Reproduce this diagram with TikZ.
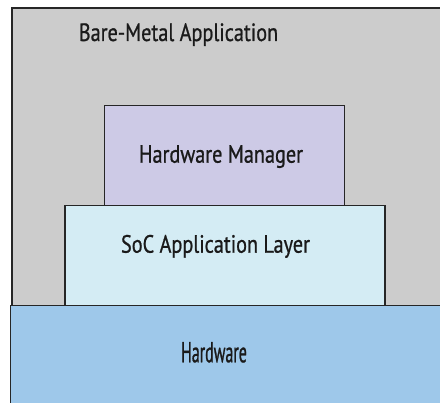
\documentclass[tikz,border=0pt]{standalone}
\usepackage{fontspec}
\setmainfont{PT Sans}[FakeStretch=0.81,FakeBold=0.8]
\newfontfamily\tallnarrow{PT Sans}[FakeStretch=0.55,FakeBold=0.8]
\definecolor{appgray}{HTML}{CCCCCC}
\definecolor{mgrpurple}{HTML}{CDCAE6}
\definecolor{soccyan}{HTML}{D4ECF4}
\definecolor{hwblue}{HTML}{9EC8EA}
\definecolor{edge}{HTML}{262626}
\definecolor{ink}{HTML}{1A1A1A}
\begin{document}
\begin{tikzpicture}[x=1pt,y=-1pt,
  layer/.style={draw=edge,line width=1.5pt,inner sep=0pt,anchor=north west},
  label/.style={anchor=base,inner sep=0pt,text=ink}]
\useasboundingbox (0,0) rectangle (440,403);
% stacked software layers, bottom-most drawn last so its top edge lies on top
\node[layer,fill=appgray,minimum width=500pt,minimum height=300pt] (app) at (11,7.5) {};
\node[layer,fill=hwblue,minimum width=500pt,minimum height=140pt] (hw) at (9.5,305) {};
\node[layer,fill=soccyan,minimum width=320pt,minimum height=100pt] (soc) at (64,205) {};
\node[layer,fill=mgrpurple,minimum width=240pt,minimum height=100pt] (mgr) at (103.5,105) {};
% layer captions
\node[label,font=\fontsize{25}{27}\selectfont] (appt) at (178.5,41) {Bare-Metal Application};
\node[label,font=\fontsize{25}{27}\selectfont] (mgrt) at (221,162.7) {Hardware Manager};
\node[label,font=\fontsize{25}{27}\selectfont] (soct) at (215.5,252.7) {SoC Application Layer};
\node[label,font=\tallnarrow\fontsize{29}{31}\selectfont] (hwt) at (214,362.3) {Hardware};
\end{tikzpicture}
\end{document}
